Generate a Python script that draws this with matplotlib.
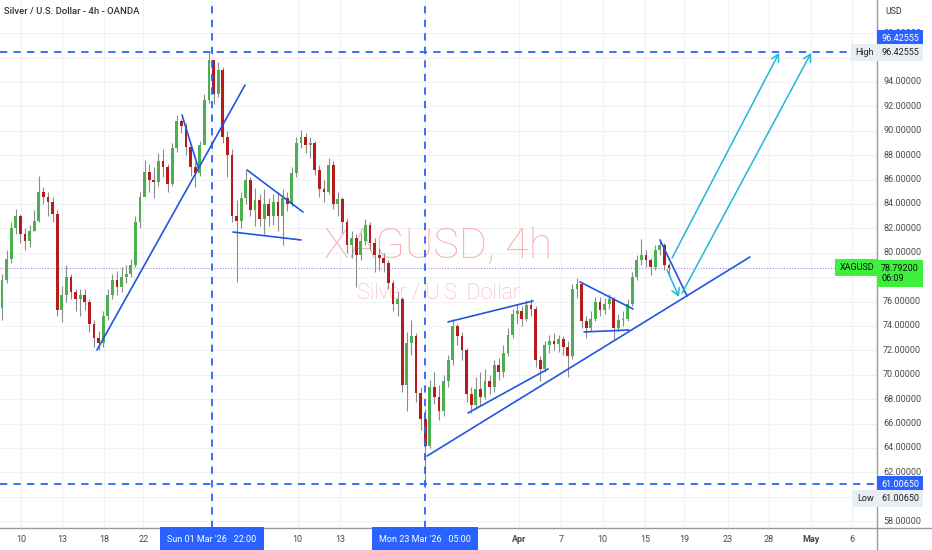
import matplotlib
matplotlib.use("Agg")
import matplotlib.pyplot as plt
import matplotlib.transforms as mtransforms

# XAGUSD 4h, one point per two bars
first_open = 75.5
closes = [77.8, 79.5, 82.0, 83.0, 81.5, 81.0, 81.8, 82.6, 85.0, 84.6,
          84.2, 83.2, 75.3, 76.5, 78.0, 76.8, 76.2, 76.5, 76.0, 74.2,
          73.0, 72.6, 74.8, 76.5, 77.8, 77.2, 78.0, 78.3, 79.0, 82.5,
          84.6, 86.6, 86.0, 85.8, 87.5, 87.0, 85.6, 88.6, 90.8, 90.4,
          88.7, 87.0, 86.5, 88.8, 92.5, 95.8, 93.0, 95.0, 89.5, 88.0,
          83.0, 82.6, 84.5, 86.0, 83.5, 84.3, 82.8, 84.0, 83.0, 84.2,
          83.0, 84.5, 84.0, 86.5, 89.0, 89.5, 88.8, 89.0, 86.8, 85.2,
          85.0, 87.2, 84.0, 84.4, 82.5, 80.6, 81.2, 79.8, 81.0, 82.3,
          80.8, 79.8, 79.6, 79.2, 77.5, 75.8, 76.2, 69.2, 72.6, 73.2,
          68.5, 66.4, 64.2, 69.0, 68.2, 67.0, 69.5, 71.2, 74.0, 73.2,
          72.0, 68.4, 67.5, 68.8, 68.2, 69.5, 69.0, 70.8, 70.2, 71.8,
          73.3, 75.0, 75.2, 74.6, 75.7, 75.4, 71.2, 70.5, 72.4, 72.8,
          72.5, 72.9, 72.3, 71.5, 77.0, 77.4, 74.4, 73.8, 74.6, 76.0,
          75.3, 75.8, 76.2, 73.8, 74.5, 74.6, 75.8, 78.0, 79.4, 79.8,
          79.4, 78.8, 80.2, 80.6, 79.0, 78.792]
highs = [78.3, 80.2, 82.5, 83.6, 83.2, 82.0, 82.3, 83.5, 86.3, 85.4,
         85.0, 84.6, 83.5, 77.3, 79.0, 78.3, 77.0, 77.0, 77.0, 76.2,
         74.5, 73.6, 75.2, 77.0, 78.3, 78.5, 78.8, 79.0, 79.5, 83.0,
         85.0, 87.6, 87.3, 87.0, 88.2, 88.5, 87.3, 89.0, 91.3, 91.0,
         90.6, 88.8, 87.4, 89.2, 93.0, 96.42555, 95.8, 95.6, 95.2, 90.0,
         88.5, 84.3, 85.0, 86.8, 86.2, 85.3, 84.8, 85.2, 84.5, 84.8,
         85.0, 85.2, 85.0, 87.0, 89.5, 90.1, 89.8, 89.5, 89.2, 87.2,
         86.0, 87.8, 87.5, 85.0, 84.6, 82.8, 81.8, 81.5, 81.6, 82.8,
         82.5, 81.2, 80.4, 80.0, 79.4, 77.8, 76.8, 76.4, 73.5, 74.5,
         73.4, 69.0, 67.2, 69.6, 70.2, 69.2, 70.0, 71.6, 74.6, 74.2,
         73.5, 72.2, 69.0, 69.8, 70.2, 70.5, 70.0, 71.2, 71.4, 72.4,
         73.8, 75.4, 75.8, 75.6, 76.1, 76.2, 75.6, 71.5, 72.8, 73.3,
         73.4, 73.3, 73.2, 72.8, 77.4, 77.9, 77.6, 74.8, 75.2, 76.4,
         76.4, 76.3, 76.6, 76.4, 75.0, 75.2, 76.2, 78.4, 79.8, 81.1,
         80.2, 79.6, 80.6, 81.1, 80.8, 79.2]
lows = [74.5, 77.5, 79.2, 81.5, 80.8, 80.2, 80.5, 81.8, 82.5, 84.0,
        83.0, 82.5, 74.8, 74.3, 76.0, 76.2, 75.2, 74.8, 75.3, 73.5,
        72.3, 72.0, 72.3, 74.5, 76.2, 76.5, 76.8, 77.5, 78.0, 78.8,
        82.0, 84.8, 85.0, 84.5, 85.5, 86.2, 85.0, 85.5, 88.3, 89.8,
        88.0, 86.3, 85.4, 86.3, 89.0, 92.3, 92.2, 92.8, 89.0, 86.2,
        82.5, 77.6, 82.0, 84.0, 83.0, 82.2, 82.2, 81.5, 82.2, 82.3,
        81.8, 80.6, 83.4, 83.8, 86.2, 88.6, 88.2, 87.8, 86.4, 84.6,
        84.2, 84.8, 83.6, 83.0, 81.6, 80.0, 79.6, 77.2, 79.4, 80.6,
        80.2, 78.4, 78.6, 78.4, 77.0, 75.2, 74.8, 68.6, 67.0, 71.6,
        67.8, 65.5, 61.0065, 64.0, 67.6, 66.3, 66.6, 69.0, 70.8, 72.4,
        71.2, 67.8, 66.9, 67.2, 67.4, 68.0, 68.4, 68.6, 69.6, 69.8,
        71.5, 73.0, 74.2, 74.0, 74.4, 74.8, 70.6, 69.5, 70.2, 71.8,
        72.0, 71.9, 71.6, 69.8, 71.3, 76.3, 73.8, 73.0, 73.6, 74.4,
        74.8, 75.0, 75.4, 72.9, 73.6, 74.0, 74.4, 75.6, 77.8, 79.0,
        78.8, 78.2, 78.6, 79.8, 78.6, 78.2]
opens = [first_open] + closes[:-1]

high_price = 96.42555
low_price = 61.0065
last_price = 78.792
countdown = "06:09"

price_ticks = [58, 62, 64, 66, 68, 70, 72, 74, 76, 80, 82, 84, 86, 88, 90, 92, 94, 98]
xtick_pos = [4.1, 13.0, 22.2, 30.7, 64.3, 73.5, 112.4, 121.5, 130.6, 139.8,
             148.3, 157.8, 166.7, 175.9, 184.8]
xtick_labels = ["10", "13", "18", "22", "10", "13", "Apr", "7", "10", "15",
                "19", "23", "28", "May", "6"]
marker_pos = [45.65, 91.96]
marker_labels = ["Sun 01 Mar '26   22:00", "Mon 23 Mar '26   05:00"]

# trend lines drawn on the chart (bar index, price)
blue_lines = [((20.65, 72.03), (52.83, 93.75)),
              ((39.13, 91.30), (42.61, 87.03)),
              ((53.26, 86.79), (65.43, 83.34)),
              ((50.22, 81.70), (65.0, 81.05)),
              ((96.96, 74.33), (115.43, 76.05)),
              ((101.30, 66.87), (118.70, 70.48)),
              ((92.39, 63.34), (162.6, 79.66)),
              ((125.65, 77.61), (137.17, 75.39)),
              ((126.52, 73.51), (136.3, 73.67)),
              ((143.04, 81.05), (148.91, 76.46))]
arrows = [((144.57, 78.59), (147.17, 76.38)),
          ((145.65, 79.57), (168.91, 96.38)),
          ((147.83, 76.70), (175.87, 96.38))]

BLUE = "#2962ff"
LINE_BLUE = "#2255e0"
CYAN = "#1fb8d8"
UP = "#4caf50"
DOWN = "#b71c1c"
WICK = "#8c8c8c"
TXT = "#4a4a4a"
FONT = ["Roboto", "DejaVu Sans"]

W, H = 932, 550
fig = plt.figure(figsize=(W / 100, H / 100), dpi=100)
ax = fig.add_axes([0, 22 / H, 877 / W, 528 / H])
ax.set_xlim(-0.43, 190.2)
ax.set_ylim(57.44, 100.72)
ax.set_axis_off()

# grid
for p in range(58, 100, 2):
    ax.axhline(p, color="#f0f1f4", lw=0.8, zorder=0)
for x in xtick_pos + marker_pos:
    ax.axvline(x, color="#f0f1f4", lw=0.8, zorder=0)

# watermark
ax.text(0.5, 0.534, "XAGUSD, 4h", transform=ax.transAxes, ha="center", va="center",
        fontsize=31, family=FONT, weight="light", color="#f7b3b3", zorder=1)
ax.text(0.5, 0.445, "Silver / U.S. Dollar", transform=ax.transAxes, ha="center",
        va="center", fontsize=15.5, family=FONT, weight="light", color="#f7b3b3", zorder=1)

# candles
idx = list(range(len(closes)))
ax.vlines(idx, lows, highs, color=WICK, lw=0.8, zorder=3)
bottoms = [min(o, c) for o, c in zip(opens, closes)]
heights = [max(abs(c - o), 0.08) for o, c in zip(opens, closes)]
colors = [UP if c >= o else DOWN for o, c in zip(opens, closes)]
ax.bar(idx, heights, bottom=bottoms, width=0.6, color=colors, zorder=4, linewidth=0)

# high / low / time markers
dash = (0, (4, 3.5))
ax.axhline(high_price, color=BLUE, lw=1.3, ls=dash, zorder=5)
ax.axhline(low_price, color=BLUE, lw=1.3, ls=dash, zorder=5)
for x in marker_pos:
    ax.axvline(x, color=BLUE, lw=1.3, ls=dash, zorder=5)
ax.axhline(last_price, color="#a48fd0", lw=0.8, ls=(0, (1, 1.5)), zorder=2)

for (x0, y0), (x1, y1) in blue_lines:
    ax.plot([x0, x1], [y0, y1], color=LINE_BLUE, lw=1.2, zorder=6, solid_capstyle="round")
for (x0, y0), (x1, y1) in arrows:
    ax.annotate("", xy=(x1, y1), xytext=(x0, y0),
                arrowprops=dict(arrowstyle="->,head_length=0.5,head_width=0.28",
                                color=CYAN, lw=1.1, shrinkA=0, shrinkB=0), zorder=6)

# axis frame
fig.add_artist(plt.Line2D([877 / W, 877 / W], [0, 1], color="#9a9a9a", lw=1))
fig.add_artist(plt.Line2D([0, 1], [22 / H, 22 / H], color="#9a9a9a", lw=1))

# title
fig.text(4 / W, 1 - 11 / H, "Silver / U.S. Dollar - 4h - OANDA", ha="left", va="center",
         fontsize=6.8, family=FONT, weight="medium", color="#333333")

# price scale
ytr = mtransforms.blended_transform_factory(fig.transFigure, ax.transData)
fig.text(885 / W, 1 - 11 / H, "USD", ha="left", va="center", fontsize=6.3,
         family=FONT, color="#333333")
for p in price_ticks:
    fig.text(883 / W, p, f"{p:.5f}", transform=ytr, ha="left", va="center",
             fontsize=6.5, family=FONT, color=TXT)


def tag(x, y, s, fc, tc, ha="left", transform=None, pad=0.45, fs=6.5):
    fig.text(x, y, s, transform=transform or ytr, ha=ha, va="center", fontsize=fs,
             family=FONT, color=tc, zorder=10,
             bbox=dict(boxstyle=f"square,pad={pad}", fc=fc, ec="none"))


px_per_unit = 528 / (100.72 - 57.44)
off = 14 / px_per_unit
tag(881 / W, high_price + off, f"{high_price:.5f}", BLUE, "white")
tag(881 / W, high_price, f"{high_price:.5f}", "#e9edf6", "#222222")
tag(874 / W, high_price, "High", "#e9edf6", "#222222", ha="right")
tag(881 / W, low_price, f"{low_price:.5f}", BLUE, "white")
tag(881 / W, low_price - off, f"{low_price:.5f}", "#e9edf6", "#222222")
tag(874 / W, low_price - off, "Low", "#e9edf6", "#222222", ha="right")
tag(881 / W, last_price - 0.48, f"{last_price:.5f}\n{countdown}", "#3cf03c", "#111111")
tag(874 / W, last_price, "XAGUSD", "#3cf03c", "#111111", ha="right")

# time scale
xtr = mtransforms.blended_transform_factory(ax.transData, fig.transFigure)
for x, s in zip(xtick_pos, xtick_labels):
    fig.text(x, 11 / H, s, transform=xtr, ha="center", va="center", fontsize=6.5,
             family=FONT, color=TXT, weight="bold" if s in ("Apr", "May") else "normal")
for x, s in zip(marker_pos, marker_labels):
    fig.text(x, 11 / H, s, transform=xtr, ha="center", va="center", fontsize=6.5,
             family=FONT, color="white", zorder=10,
             bbox=dict(boxstyle="square,pad=0.8", fc=BLUE, ec="none"))

fig.savefig("out.png", dpi=100, facecolor="white")
